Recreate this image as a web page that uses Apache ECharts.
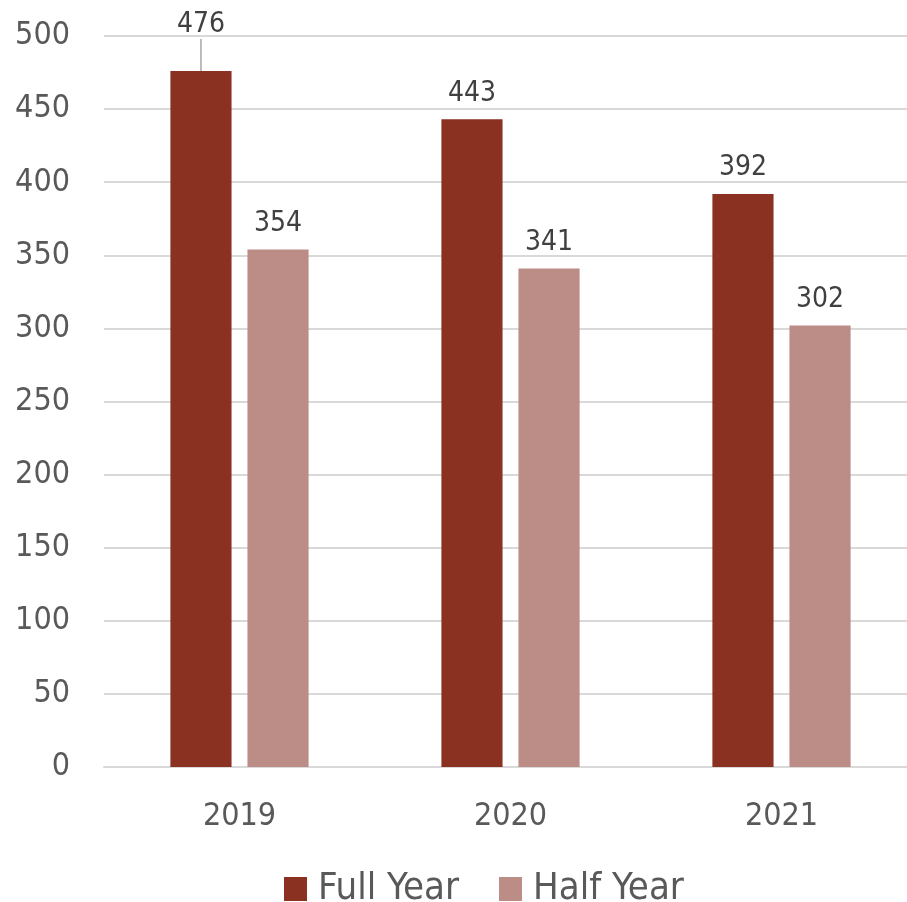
<!DOCTYPE html>
<html><head><meta charset="utf-8">
<script src="https://cdn.jsdelivr.net/npm/echarts@6/dist/echarts.min.js"></script>
<style>html,body{margin:0;padding:0;background:#fff}#c{width:907px;height:902px}</style>
</head><body><div id="c"></div>
<script>
const categories = ['2019', '2020', '2021'];
const fullYear = [476, 443, 392];
const halfYear = [354, 341, 302];
const yTicks = {min: 0, max: 500, interval: 50};

const FONT = '"DejaVu Sans Condensed","Liberation Sans Narrow","Open Sans",sans-serif';
const chart = echarts.init(document.getElementById('c'));
chart.setOption({
  animation: false,
  textStyle: {fontFamily: FONT},
  grid: {left: 104, width: 813, top: 36, height: 731, containLabel: false, outerBoundsMode: 'none'},
  legend: {
    top: 865, left: 279, itemWidth: 23, itemHeight: 24, itemGap: 40,
    icon: 'rect',
    textStyle: {fontSize: 38, color: '#595959', fontFamily: FONT, padding: [0, 0, 0, 6]},
    data: ['Full Year', 'Half Year']
  },
  xAxis: {
    type: 'category', data: categories,
    axisLine: {lineStyle: {color: '#d9d9d9', width: 2}},
    axisTick: {show: false},
    axisLabel: {fontSize: 32, color: '#595959', margin: 34, fontFamily: FONT}
  },
  yAxis: {
    type: 'value', min: yTicks.min, max: yTicks.max, interval: yTicks.interval,
    axisLine: {show: false}, axisTick: {show: false},
    splitLine: {lineStyle: {color: '#d9d9d9', width: 2}},
    axisLabel: {fontSize: 32, color: '#595959', margin: 34, fontFamily: FONT}
  },
  series: [
    {
      name: 'Full Year', type: 'bar',
      data: fullYear.map((v, i) => i === 0
        ? {value: v, labelLine: {show: true, lineStyle: {color: '#a6a6a6', width: 1.5}}}
        : {value: v, labelLine: {show: false}}),
      barGap: '26%', barCategoryGap: '49%',
      itemStyle: {color: '#8b3121'},
      label: {show: true, position: 'top', distance: 12, fontSize: 28, color: '#404040', fontFamily: FONT},
      labelLayout: function (p) { return p.dataIndex === 0 ? {dy: -20} : {}; },
      labelLine: {show: false}
    },
    {
      name: 'Half Year', type: 'bar', data: halfYear,
      itemStyle: {color: '#bc8c87'},
      label: {show: true, position: 'top', distance: 12, fontSize: 28, color: '#404040', fontFamily: FONT}
    }
  ]
});
</script></body></html>
